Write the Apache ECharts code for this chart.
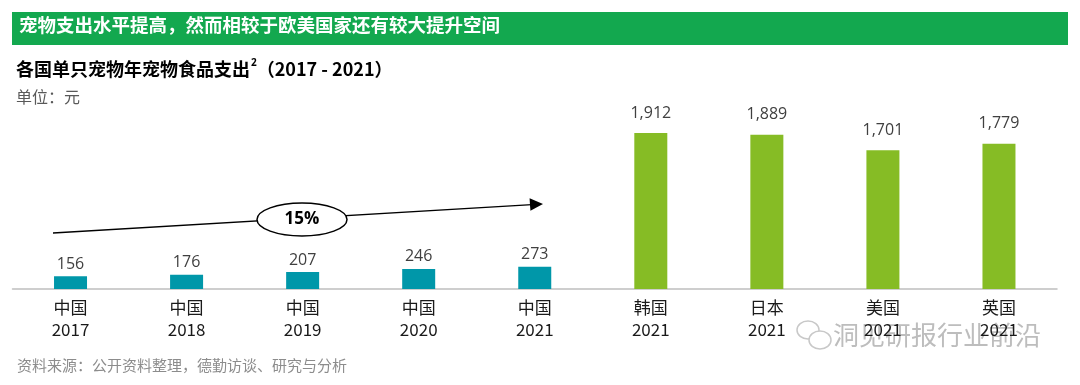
<!DOCTYPE html>
<html>
<head>
<meta charset="utf-8">
<script src="https://cdn.jsdelivr.net/npm/echarts@6/dist/echarts.min.js"></script>
<style>
html,body{margin:0;padding:0;background:#fff;}
#chart{width:1080px;height:385px;}
</style>
</head>
<body>
<div id="chart"></div>
<script>
const categories = ['中国\n2017','中国\n2018','中国\n2019','中国\n2020','中国\n2021','韩国\n2021','日本\n2021','美国\n2021','英国\n2021'];
const chinaValues = [156,176,207,246,273,null,null,null,null];
const otherValues = [null,null,null,null,null,1912,1889,1701,1779];
const bannerText = '宠物支出水平提高，然而相较于欧美国家还有较大提升空间';
const cagrText = '15%';
const sourceText = '资料来源：公开资料整理，德勤访谈、研究与分析';

const CJK = '"Noto Sans CJK SC","Open Sans",sans-serif';
const NUM = '"Open Sans","Noto Sans CJK SC",sans-serif';
const fmt = v => v.value == null ? '' : Number(v.value).toLocaleString('en-US');

const chart = echarts.init(document.getElementById('chart'), null, {renderer:'canvas'});
chart.setOption({
  animation:false,
  backgroundColor:'#fff',
  title:[{
    text:'{a|各国单只宠物年宠物食品支出}{s|2}{a|（2017 - 2021）}',
    left:11, top:52,
    textStyle:{rich:{
      a:{fontFamily:CJK,fontSize:18,fontWeight:'bold',color:'#000',verticalAlign:'middle',lineHeight:24},
      s:{fontFamily:NUM,fontSize:10,fontWeight:'bold',color:'#000',verticalAlign:'middle',lineHeight:24,padding:[0,0,12,1]}
    }}
  },{
    text:'单位：元', left:11, top:84,
    textStyle:{fontFamily:CJK,fontSize:16,fontWeight:'normal',color:'#595959'}
  },{
    text:sourceText, left:12, top:353,
    textStyle:{fontFamily:CJK,fontSize:15,fontWeight:'normal',color:'#8c8c8c'}
  }],
  grid:{left:12.5,right:23,top:85,bottom:96},
  xAxis:{
    type:'category', data:categories,
    axisLine:{lineStyle:{color:'#bfbfbf',width:1.5}},
    axisTick:{length:5,lineStyle:{color:'#a6a6a6',width:1}},
    axisLabel:{margin:8,fontFamily:CJK,fontSize:17,lineHeight:22,color:'#1a1a1a',interval:0}
  },
  yAxis:{type:'value',min:0,max:2500,show:false,splitLine:{show:false}},
  series:[{
    type:'bar', data:chinaValues, barWidth:33, barGap:'-100%',
    itemStyle:{color:'#0097a9'},
    label:{show:true,position:'top',distance:4,formatter:fmt,fontFamily:NUM,fontSize:16,color:'#404040'}
  },{
    type:'bar', data:otherValues, barWidth:33, barGap:'-100%',
    itemStyle:{color:'#86bc25'},
    label:{show:true,position:'top',distance:12,formatter:fmt,fontFamily:NUM,fontSize:16,color:'#404040'}
  }],
  graphic:[
    {type:'rect',shape:{x:12,y:12,width:1056,height:33},style:{fill:'#13a84f'}},
    {type:'text',left:19,top:16,style:{text:bannerText,fill:'#fff',font:'bold 18.5px "Noto Sans CJK SC",sans-serif'}},
    {type:'line',shape:{x1:53,y1:233,x2:532,y2:204.6},style:{stroke:'#000',lineWidth:1.3}},
    {type:'polygon',shape:{points:[[543,204],[530.4,210.7],[529.6,198.2]]},style:{fill:'#000'}},
    {type:'ellipse',shape:{cx:302,cy:219.5,rx:45,ry:16.5},style:{fill:'#fff',stroke:'#000',lineWidth:1.5}},
    {type:'text',x:302,y:219.5,style:{text:cagrText,fill:'#000',font:'bold 17px "Open Sans",sans-serif',align:'center',verticalAlign:'middle'}},
    {type:'ellipse',shape:{cx:808,cy:330,rx:11,ry:9},style:{fill:'none',stroke:'#c8c8c8',lineWidth:1.5}},
    {type:'ellipse',shape:{cx:820,cy:340,rx:11,ry:9},style:{fill:'#fff',stroke:'#c8c8c8',lineWidth:1.5}},
    {type:'text',left:833,top:322,style:{text:'洞见研报行业前沿',fill:'#bdbdbd',font:'26px "Noto Sans CJK SC",sans-serif'}}
  ]
});
</script>
</body>
</html>
